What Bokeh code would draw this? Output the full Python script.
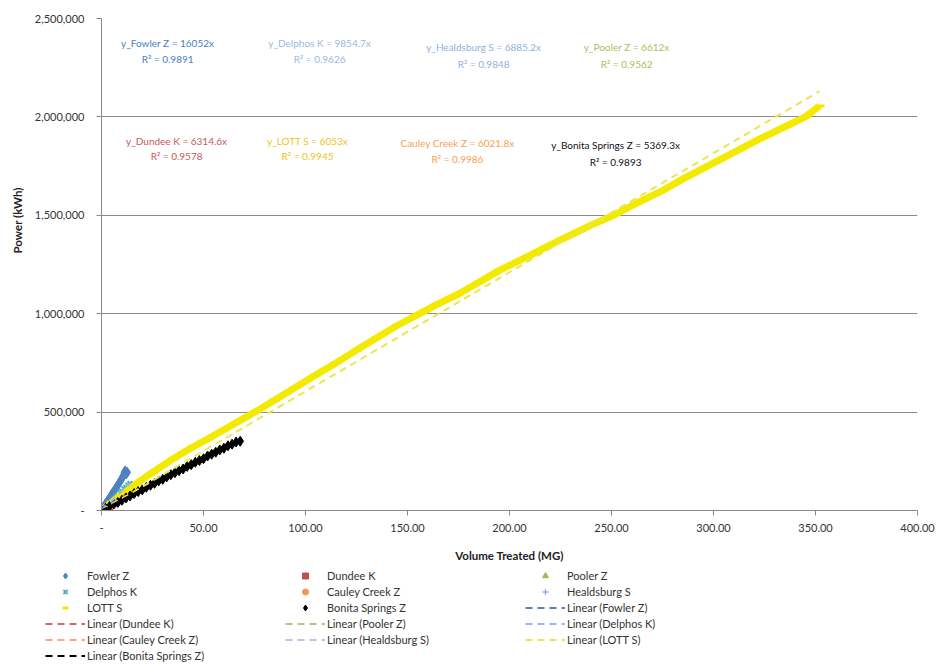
from bokeh.plotting import figure
from bokeh.layouts import column
from bokeh.models import (Range1d, FixedTicker, NumeralTickFormatter, Legend,
                          LegendItem, Label, Title)
from bokeh.embed import file_html
from bokeh.resources import INLINE

# ---- cumulative volume treated (MG) vs cumulative power (kWh) per plant ----
fowler_x = [0.3, 0.8, 1.3, 2.0, 2.6, 3.2, 4.0, 4.7, 5.4, 6.1, 6.9, 7.6, 8.3, 9.0, 9.6, 10.2, 10.7, 11.2, 11.6, 12.1, 12.6]
fowler_y = [6000, 14000, 22000, 33000, 43000, 53000, 64000, 76000, 88000, 98000, 111000, 122000, 134000, 146000, 155000, 166000, 178000, 192000, 201000, 186000, 194000]

dundee_x = [1.0, 2.0, 3.0, 4.0, 5.0, 6.0, 7.0, 8.0, 9.0, 10.0, 11.0, 12.0]
dundee_y = [7000, 11000, 20000, 22000, 30000, 40000, 42000, 52000, 55000, 66000, 64000, 78000]

pooler_x = [0.4, 0.8, 1.2, 1.6, 2.0, 2.4, 2.8, 3.2, 3.6, 4.0]
pooler_y = [2900, 5000, 8300, 10100, 13600, 16400, 17900, 21500, 23400, 26900]

delphos_x = [1, 2, 3, 4, 5, 6, 7, 8, 9, 10, 11, 12, 13, 14]
delphos_y = [10000, 21000, 29000, 40000, 48000, 60000, 70000, 77000, 90000, 97000, 110000, 117000, 128000, 136000]

cauley_x = [0.5, 1.0, 1.5, 2.0, 2.5, 3.0, 3.5, 4.0, 4.5, 5.0]
cauley_y = [3100, 5900, 9200, 12100, 14800, 18200, 21000, 24300, 27000, 30200]

healdsburg_x = [1, 2, 3, 4, 5, 6, 7, 8]
healdsburg_y = [7400, 13100, 21000, 26800, 35200, 40100, 49000, 54300]

lott_x = [0, 5, 10, 15, 20, 25, 30, 35, 40, 45, 50, 55, 60, 68, 76, 85, 95, 105, 115,
          125, 135, 145, 156, 165, 175, 185, 195, 210, 220, 230, 240, 251, 262, 274,
          286, 298, 310, 322, 334, 345, 352]
lott_y = [0, 42000, 82000, 120000, 158000, 193000, 228000, 262000, 293000, 324000,
          352000, 381000, 410000, 458000, 505000, 562000, 625000, 688000, 750000,
          815000, 878000, 940000, 1000000, 1050000, 1100000, 1160000, 1220000,
          1296000, 1350000, 1400000, 1450000, 1500000, 1560000, 1620000, 1690000,
          1755000, 1820000, 1885000, 1945000, 2000000, 2055000]

bonita_x = [0, 2, 4, 6, 8, 10, 12, 14, 16, 18, 20, 22, 24, 26, 28, 30, 32, 34, 36,
            38, 40, 42, 44, 46, 48, 50, 52, 54, 56, 58, 60, 62, 64, 66, 68]
bonita_y = [0, 11000, 22000, 33000, 41000, 52000, 64000, 74000, 86000, 96000, 105000,
            118000, 128000, 138000, 150000, 158000, 171000, 182000, 192000, 202000,
            211000, 224000, 233000, 245000, 254000, 263000, 277000, 286000, 296000,
            308000, 316000, 329000, 337000, 348000, 352000]

# trendline (zero intercept) slopes and fit quality
slopes = {"Fowler Z": 16052, "Dundee K": 6314.6, "Pooler Z": 6612, "Delphos K": 9854.7,
          "Cauley Creek Z": 6021.8, "Healdsburg S": 6885.2, "LOTT S": 6053,
          "Bonita Springs Z": 5369.3}
r2 = {"Fowler Z": "0.9891", "Dundee K": "0.9578", "Pooler Z": "0.9562",
      "Delphos K": "0.9626", "Cauley Creek Z": "0.9986", "Healdsburg S": "0.9848",
      "LOTT S": "0.9945", "Bonita Springs Z": "0.9893"}

x_ticks = [0, 50, 100, 150, 200, 250, 300, 350, 400]
y_ticks = [0, 500000, 1000000, 1500000, 2000000, 2500000]

FONT = "Lato"
TXT = "#333333"
YELLOW = "#F4EA00"

order = ["Fowler Z", "Dundee K", "Pooler Z", "Delphos K", "Cauley Creek Z",
         "Healdsburg S", "LOTT S", "Bonita Springs Z"]
series = {"Fowler Z": (fowler_x, fowler_y), "Dundee K": (dundee_x, dundee_y),
          "Pooler Z": (pooler_x, pooler_y), "Delphos K": (delphos_x, delphos_y),
          "Cauley Creek Z": (cauley_x, cauley_y),
          "Healdsburg S": (healdsburg_x, healdsburg_y), "LOTT S": (lott_x, lott_y),
          "Bonita Springs Z": (bonita_x, bonita_y)}
marker_style = {
    "Fowler Z": dict(marker="diamond", size=10, color="#4F81BD"),
    "Dundee K": dict(marker="square", size=7, color="#C0504D"),
    "Pooler Z": dict(marker="triangle", size=8, color="#9BBB59"),
    "Delphos K": dict(marker="x", size=7, line_width=2, color="#4BACC6"),
    "Cauley Creek Z": dict(marker="circle", size=7, color="#F79646"),
    "Healdsburg S": dict(marker="cross", size=8, line_width=1.5, color="#95B3D7"),
    "LOTT S": dict(marker="dash", size=10, line_width=3, color=YELLOW),
    "Bonita Springs Z": dict(marker="diamond", size=10, color="black"),
}
trend_colors = {"Fowler Z": "#5A80BE", "Dundee K": "#D4696B", "Pooler Z": "#B1C98A",
                "Delphos K": "#A3B8E0", "Cauley Creek Z": "#F6AC7B",
                "Healdsburg S": "#B9C5E5", "LOTT S": "#E9E74E",
                "Bonita Springs Z": "black"}
TREND_DASH = "7 5"

# ---------------- main chart ----------------
p = figure(width=937, height=567, output_backend="svg", toolbar_location=None,
           x_range=Range1d(0, 400), y_range=Range1d(0, 2500000),
           min_border_left=101, min_border_right=20, min_border_top=18,
           min_border_bottom=57, frame_align=False)
p.outline_line_color = None
p.border_fill_color = "white"

p.xaxis.ticker = FixedTicker(ticks=x_ticks)
p.yaxis.ticker = FixedTicker(ticks=y_ticks)
p.xaxis.formatter = NumeralTickFormatter(format="0.00")
p.yaxis.formatter = NumeralTickFormatter(format="0,0")
p.xaxis.major_label_overrides = {0: "-"}
p.yaxis.major_label_overrides = {0: "-"}
for ax in (p.xaxis, p.yaxis):
    ax.axis_line_color = "#8a8a8a"
    ax.major_tick_line_color = "#8a8a8a"
    ax.minor_tick_line_color = None
    ax.major_tick_in = 0
    ax.major_tick_out = 5
    ax.major_label_text_font = FONT
    ax.major_label_text_font_size = "11px"
    ax.major_label_text_color = TXT
    ax.axis_label_text_font = FONT
    ax.axis_label_text_font_size = "11.5px"
    ax.axis_label_text_font_style = "bold"
    ax.axis_label_text_color = "#222222"
p.xaxis.axis_label = "Volume Treated (MG)"
p.xaxis.major_label_standoff = 8
p.xaxis.axis_label_standoff = 14
p.yaxis.major_label_standoff = 12

# vertical axis title, sitting a little above the middle of the axis
p.add_layout(Title(text="Power (kWh)", align="left", offset=257, standoff=16,
                   text_font=FONT, text_font_size="11.5px", text_font_style="bold",
                   text_color="#222222"), "left")

p.xgrid.grid_line_color = None
p.ygrid.grid_line_color = "#8c8c8c"
p.ygrid.grid_line_width = 1

# data points (LOTT S is dense enough to read as a solid band)
for name in order:
    xs, ys = series[name]
    if name == "LOTT S":
        p.line(xs, ys, line_width=7, color=YELLOW)
    p.scatter(xs, ys, **marker_style[name])

# zero-intercept linear trendlines across each series' range
for name in order:
    xs = [0, max(series[name][0])]
    ys = [slopes[name] * v for v in xs]
    p.line(xs, ys, line_dash=TREND_DASH, line_width=2, color=trend_colors[name])

# trendline equations
eq_specs = [
    ("y_Fowler Z = 16052x", "Fowler Z", "#4A7EBB", 32.4, 2373000, 2292000),
    ("y_Delphos K = 9854.7x", "Delphos K", "#9DB8DC", 106.9, 2373000, 2292000),
    ("y_Healdsburg S = 6885.2x", "Healdsburg S", "#92B1DA", 187.3, 2353000, 2271000),
    ("y_Pooler Z = 6612x", "Pooler Z", "#A6BF5E", 257.4, 2353000, 2271000),
    ("y_Dundee K = 6314.6x", "Dundee K", "#C4595A", 36.8, 1880000, 1799000),
    ("y_LOTT S = 6053x", "LOTT S", "#EFC21E", 101.0, 1880000, 1799000),
    ("Cauley Creek Z = 6021.8x", "Cauley Creek Z", "#F4A151", 174.5, 1865000, 1784000),
    ("y_Bonita Springs Z = 5369.3x", "Bonita Springs Z", "#111111", 252.0, 1855000, 1773000),
]
for txt, name, col, lx, ly1, ly2 in eq_specs:
    for t, ly in ((txt, ly1), ("R\u00b2 = " + r2[name], ly2)):
        p.add_layout(Label(x=lx, y=ly, text=t, text_align="center",
                           text_baseline="middle", text_font=FONT,
                           text_font_size="10px", text_color=col))

# ---------------- legend strip ----------------
lf = figure(width=937, height=98, output_backend="svg", toolbar_location=None,
            x_axis_type=None, y_axis_type=None, x_range=Range1d(0, 1),
            y_range=Range1d(0, 1), min_border=0, frame_align=False)
lf.outline_line_color = None
lf.grid.visible = False

# swatch renderers: their single point lies outside the strip's ranges
off = [5, 6]
sym = {name: lf.scatter(off[:1], off[:1], **marker_style[name]) for name in order}
lin = {name: lf.line(off, off, line_dash=TREND_DASH, line_width=2,
                     color=trend_colors[name]) for name in order}

items = [LegendItem(label=name, renderers=[sym[name]]) for name in order]
items += [LegendItem(label=f"Linear ({name})", renderers=[lin[name]]) for name in order]

legend = Legend(items=items, orientation="horizontal", ncols=3,
                location=(45, 2), padding=0, margin=0, spacing=1,
                glyph_width=40, glyph_height=15, label_height=15, label_width=197,
                label_standoff=2, border_line_color=None,
                background_fill_alpha=0.0,
                label_text_font=FONT, label_text_font_size="11px",
                label_text_color=TXT)
lf.add_layout(legend, "center")

layout = column(p, lf, spacing=0)
open("out.html", "w").write(file_html(layout, INLINE))
